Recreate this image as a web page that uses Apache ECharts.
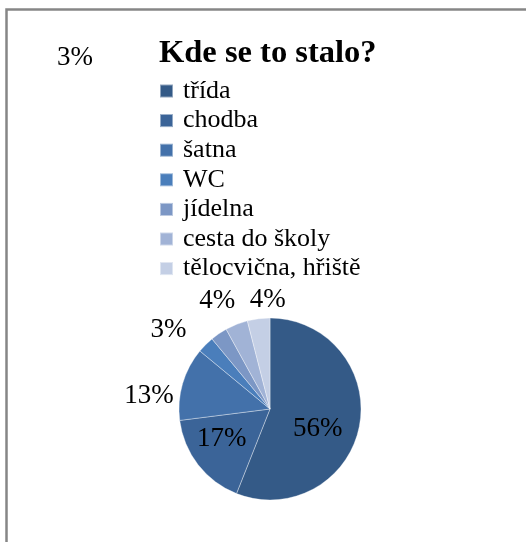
<!DOCTYPE html>
<html>
<head>
<meta charset="utf-8">
<style>
  html, body { margin: 0; padding: 0; background: #ffffff; }
  #chart { width: 526px; height: 542px; }
</style>
<script src="https://cdn.jsdelivr.net/npm/echarts@6/dist/echarts.min.js"></script>
</head>
<body>
<div id="chart"></div>
<script>
// Where the incidents happened (share of answers, %)
const categories = ['třída', 'chodba', 'šatna', 'WC', 'jídelna', 'cesta do školy', 'tělocvična, hřiště'];
const shares = [56, 17, 13, 3, 3, 4, 4];
const sliceColors = ['#345a87', '#3b6498', '#4371aa', '#4a7ebb', '#7c97c5', '#a1b3d6', '#c4cfe5'];

const serif = '"Liberation Serif", "DejaVu Serif", serif';

// Per-slice label placement: inside for the large slices, just outside for the small ones
const insideIdx = [0, 1];
const labelOffsets = [[0, 11], [-10, 0], [-3, 14], [-15, -11], [0, 0], [1, -18], [28, -13]];

const chart = echarts.init(document.getElementById('chart'), null, { renderer: 'canvas' });

const pieData = categories.map((name, i) => ({
  name: name,
  value: shares[i],
  itemStyle: { color: sliceColors[i] },
  label: {
    position: insideIdx.includes(i) ? 'inside' : 'outside',
    offset: labelOffsets[i]
  }
}));

chart.setOption({
  animation: false,
  title: {
    text: 'Kde se to stalo?',
    left: 159,
    top: 37,
    padding: 0,
    textStyle: { fontFamily: serif, fontSize: 32.5, fontWeight: 'bold', color: '#000' }
  },
  legend: {
    orient: 'vertical',
    left: 159,
    top: 78,
    padding: 0,
    itemWidth: 13,
    itemHeight: 13,
    itemGap: 3.6,
    icon: 'rect',
    selectedMode: false,
    data: categories,
    textStyle: {
      fontFamily: serif,
      fontSize: 26,
      lineHeight: 26,
      color: '#000',
      padding: [0, 0, 0, 5]
    }
  },
  graphic: [{
    type: 'polyline',
    shape: { points: [[6.5, 560], [6.5, 9.5], [540, 9.5]] },
    style: { stroke: '#868686', lineWidth: 2.5, fill: null },
    silent: true
  }],
  series: [{
    type: 'pie',
    center: [270, 409],
    radius: 91,
    startAngle: 90,
    clockwise: true,
    avoidLabelOverlap: false,
    data: pieData,
    itemStyle: { borderColor: 'rgba(255,255,255,0.45)', borderWidth: 0.8 },
    label: {
      show: true,
      formatter: '{c}%',
      fontFamily: serif,
      fontSize: 27,
      color: '#000',
      distanceToLabelLine: 0
    },
    labelLine: { show: false, length: 6, length2: 0 },
    labelLayout: function (params) {
      // the jídelna label sits detached in the upper-left corner
      if (params.dataIndex === 4) {
        return { x: 57, y: 44, align: 'left', verticalAlign: 'top' };
      }
      return {};
    },
    emphasis: { disabled: true }
  }]
});
</script>
</body>
</html>
